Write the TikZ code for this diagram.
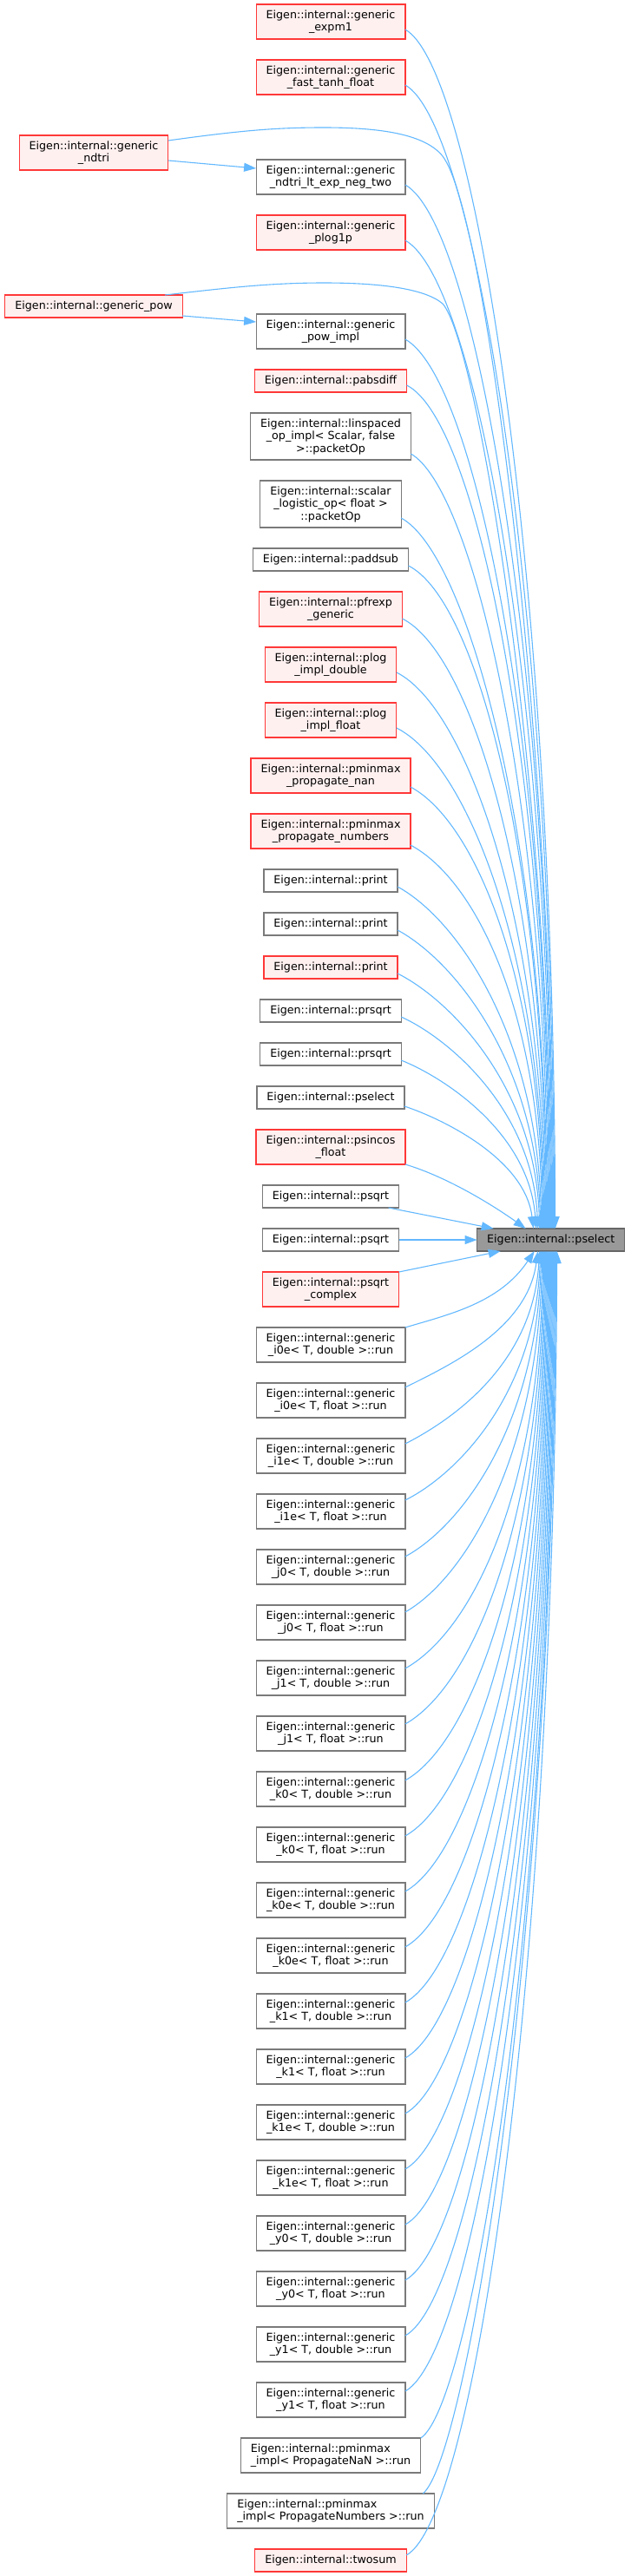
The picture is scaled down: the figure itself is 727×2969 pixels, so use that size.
\documentclass[tikz,border=0pt]{standalone}
\usepackage{fontspec}
\setmainfont{DejaVu Sans}
\usetikzlibrary{arrows.meta,positioning}
\definecolor{callblue}{HTML}{63B8FF}
\definecolor{truncred}{HTML}{FF3838}
\definecolor{truncfill}{HTML}{FFF0F0}
\definecolor{boxgray}{HTML}{7A7A7A}
\definecolor{focusfill}{HTML}{999999}
\definecolor{focusline}{HTML}{666666}
\tikzset{fn/.style={draw=boxgray,fill=white,line width=1.2pt,align=center,inner xsep=11.5pt,inner ysep=1pt,outer sep=0pt,minimum height=26pt,font=\fontsize{12.7pt}{14.5pt}\selectfont},trunc/.style={fn,draw=truncred,fill=truncfill},focus/.style={fn,draw=focusline,fill=focusfill},dbl/.style={minimum height=40pt},tpl/.style={minimum height=54pt},arr/.style={-{Triangle[length=14pt,width=10pt]},line width=1.1pt,draw=callblue}}

\begin{document}
\begin{tikzpicture}[x=1pt,y=-1pt,node distance=24pt]
\useasboundingbox (0,0) rectangle (727,2969);
% callers, middle column
\node[trunc,dbl] (expm) at (381,25) {Eigen::internal::generic\\\_expm1};
\node[trunc,dbl,below=of expm] (tanh) {Eigen::internal::generic\\\_fast\_tanh\_float};
\node[fn,dbl,below=75pt of tanh] (ndtrilt) {Eigen::internal::generic\\\_ndtri\_lt\_exp\_neg\_two};
\node[trunc,dbl,below=of ndtrilt] (plogp) {Eigen::internal::generic\\\_plog1p};
\node[fn,dbl,below=74pt of plogp] (powimpl) {Eigen::internal::generic\\\_pow\_impl};
\node[trunc,below=of powimpl] (pabs) {Eigen::internal::pabsdiff};
\node[fn,tpl,below=of pabs] (linsp) {Eigen::internal::linspaced\\\_op\_impl< Scalar, false\\>::packetOp};
\node[fn,tpl,below=of linsp] (logist) {Eigen::internal::scalar\\\_logistic\_op< float >\\::packetOp};
\node[fn,below=of logist] (paddsub) {Eigen::internal::paddsub};
\node[trunc,dbl,below=of paddsub] (pfrexp) {Eigen::internal::pfrexp\\\_generic};
\node[trunc,dbl,below=of pfrexp] (plogd) {Eigen::internal::plog\\\_impl\_double};
\node[trunc,dbl,below=of plogd] (plogf) {Eigen::internal::plog\\\_impl\_float};
\node[trunc,dbl,below=of plogf] (pmmnan) {Eigen::internal::pminmax\\\_propagate\_nan};
\node[trunc,dbl,below=of pmmnan] (pmmnum) {Eigen::internal::pminmax\\\_propagate\_numbers};
\node[fn,below=of pmmnum] (printa) {Eigen::internal::print};
\node[fn,below=of printa] (printb) {Eigen::internal::print};
\node[trunc,below=of printb] (printc) {Eigen::internal::print};
\node[fn,below=of printc] (prsqrta) {Eigen::internal::prsqrt};
\node[fn,below=of prsqrta] (prsqrtb) {Eigen::internal::prsqrt};
\node[fn,below=of prsqrtb] (pselcall) {Eigen::internal::pselect};
\node[trunc,dbl,below=of pselcall] (psincos) {Eigen::internal::psincos\\\_float};
\node[fn,below=of psincos] (psqrta) {Eigen::internal::psqrt};
\node[fn,below=of psqrta] (psqrtb) {Eigen::internal::psqrt};
\node[trunc,dbl,below=of psqrtb] (psqrtc) {Eigen::internal::psqrt\\\_complex};
\node[fn,dbl,below=of psqrtc] (izd) {Eigen::internal::generic\\\_i0e< T, double >::run};
\node[fn,dbl,below=of izd] (izf) {Eigen::internal::generic\\\_i0e< T, float >::run};
\node[fn,dbl,below=of izf] (iod) {Eigen::internal::generic\\\_i1e< T, double >::run};
\node[fn,dbl,below=of iod] (iof) {Eigen::internal::generic\\\_i1e< T, float >::run};
\node[fn,dbl,below=of iof] (jzd) {Eigen::internal::generic\\\_j0< T, double >::run};
\node[fn,dbl,below=of jzd] (jzf) {Eigen::internal::generic\\\_j0< T, float >::run};
\node[fn,dbl,below=of jzf] (jod) {Eigen::internal::generic\\\_j1< T, double >::run};
\node[fn,dbl,below=of jod] (jof) {Eigen::internal::generic\\\_j1< T, float >::run};
\node[fn,dbl,below=of jof] (kzd) {Eigen::internal::generic\\\_k0< T, double >::run};
\node[fn,dbl,below=of kzd] (kzf) {Eigen::internal::generic\\\_k0< T, float >::run};
\node[fn,dbl,below=of kzf] (kzed) {Eigen::internal::generic\\\_k0e< T, double >::run};
\node[fn,dbl,below=of kzed] (kzef) {Eigen::internal::generic\\\_k0e< T, float >::run};
\node[fn,dbl,below=of kzef] (kod) {Eigen::internal::generic\\\_k1< T, double >::run};
\node[fn,dbl,below=of kod] (kof) {Eigen::internal::generic\\\_k1< T, float >::run};
\node[fn,dbl,below=of kof] (koed) {Eigen::internal::generic\\\_k1e< T, double >::run};
\node[fn,dbl,below=of koed] (koef) {Eigen::internal::generic\\\_k1e< T, float >::run};
\node[fn,dbl,below=of koef] (yzd) {Eigen::internal::generic\\\_y0< T, double >::run};
\node[fn,dbl,below=of yzd] (yzf) {Eigen::internal::generic\\\_y0< T, float >::run};
\node[fn,dbl,below=of yzf] (yod) {Eigen::internal::generic\\\_y1< T, double >::run};
\node[fn,dbl,below=of yod] (yof) {Eigen::internal::generic\\\_y1< T, float >::run};
\node[fn,dbl,align=left,below=of yof] (pmminan) {Eigen::internal::pminmax\\\_impl< PropagateNaN >::run};
\node[fn,dbl,align=left,below=of pmminan] (pmminum) {Eigen::internal::pminmax\\\_impl< PropagateNumbers >::run};
\node[trunc,below=of pmminum] (twosum) {Eigen::internal::twosum};
% left column and the called function
\node[trunc,dbl] (ndtri) at (108,176) {Eigen::internal::generic\\\_ndtri};
\node[trunc] (gpow) at (108,353) {Eigen::internal::generic\_pow};
\node[focus,right=90pt of psqrtb] (pselect) {Eigen::internal::pselect};
% calls from above
\draw[arr] ([yshift=-9pt]expm.east) .. controls +(80,45) and +(-2,-765) .. ([xshift=5pt]pselect.north);
\draw[arr] ([yshift=-9pt]tanh.east) .. controls +(80,45) and +(-2,-729) .. ([xshift=4pt]pselect.north);
\draw[arr] ([yshift=14pt]ndtri.east) .. controls (280,150) and (320,147) .. (373,147) .. controls (440,147) and (490,155) .. (510,180) .. controls (560,245) and (637,850) .. ([xshift=3pt]pselect.north);
\draw[arr] ([yshift=-9pt]ndtri.east) -- ([yshift=10pt]ndtrilt.west);
\draw[arr] ([yshift=-9pt]ndtrilt.east) .. controls +(80,45) and +(-2,-666) .. ([xshift=2pt]pselect.north);
\draw[arr] ([yshift=-9pt]plogp.east) .. controls +(80,45) and +(-2,-631) .. ([xshift=1pt]pselect.north);
\draw[arr] ([xshift=-20pt]gpow.north east) .. controls (260,332) and (310,326) .. (373,326) .. controls (440,326) and (490,333) .. (510,350) .. controls (550,395) and (634,900) .. (pselect.north);
\draw[arr] ([yshift=-11pt]gpow.east) -- ([yshift=11pt]powimpl.west);
\draw[arr] ([yshift=-9pt]powimpl.east) .. controls +(80,45) and +(-2,-568) .. ([xshift=-1pt]pselect.north);
\draw[arr] ([yshift=-5pt]pabs.east) .. controls +(80,40) and +(-2,-536) .. ([xshift=-2pt]pselect.north);
\draw[arr] ([yshift=-20pt]linsp.east) .. controls +(70,40) and +(-2,-501) .. ([xshift=-3pt]pselect.north);
\draw[arr] ([yshift=-16pt]logist.east) .. controls +(75,40) and +(-2,-458) .. ([xshift=-4pt]pselect.north);
\draw[arr] ([yshift=-7pt]paddsub.east) .. controls +(80,40) and +(-2,-423) .. ([xshift=-5pt]pselect.north);
\draw[arr] ([yshift=-11pt]pfrexp.east) .. controls +(80,40) and +(-2,-391) .. ([xshift=-6pt]pselect.north);
\draw[arr] ([yshift=-9pt]plogd.east) .. controls +(80,40) and +(-2,-356) .. ([xshift=-7pt]pselect.north);
\draw[arr] ([yshift=-9pt]plogf.east) .. controls +(80,40) and +(-2,-321) .. ([xshift=-8pt]pselect.north);
\draw[arr] ([yshift=-13pt]pmmnan.east) .. controls +(75,40) and +(-2,-285) .. ([xshift=-9pt]pselect.north);
\draw[arr] ([yshift=-16pt]pmmnum.east) .. controls +(75,40) and +(-2,-250) .. ([xshift=-10pt]pselect.north);
\draw[arr] ([yshift=-7pt]printa.east) .. controls +(70,38) and +(-3,-219) .. ([xshift=-11pt]pselect.north);
\draw[arr] ([yshift=-7pt]printb.east) .. controls +(65,35) and +(-4,-191) .. ([xshift=-12pt]pselect.north);
\draw[arr] ([yshift=-7pt]printc.east) .. controls +(60,30) and +(-5,-164) .. ([xshift=-13pt]pselect.north);
\draw[arr] ([yshift=-7pt]prsqrta.east) .. controls +(55,25) and +(-6,-137) .. ([xshift=-15pt]pselect.north);
\draw[arr] ([yshift=-7pt]prsqrtb.east) .. controls +(50,20) and +(-8,-110) .. ([xshift=-17pt]pselect.north);
\draw[arr] ([yshift=-10pt]pselcall.east) .. controls +(45,15) and +(-10,-80) .. ([xshift=-20pt]pselect.north);
\draw[arr] (psincos.south east) .. controls +(50,15) and +(-35,-25) .. ([xshift=-29pt]pselect.north);
\draw[arr] ([xshift=-12pt]psqrta.south east) -- ([xshift=-66pt]pselect.north);
\draw[arr] (psqrtb.east) -- (pselect.west);
% calls from below
\draw[arr] (psqrtc.north east) -- ([xshift=-58pt]pselect.south);
\draw[arr] (izd.north east) .. controls +(50,-15) and +(-40,60) .. ([xshift=-19pt]pselect.south);
\draw[arr] ([yshift=15pt]izf.east) .. controls +(50,-25) and +(-12,90) .. ([xshift=-15pt]pselect.south);
\draw[arr] ([yshift=14pt]iod.east) .. controls +(55,-28) and +(-8,130) .. ([xshift=-13pt]pselect.south);
\draw[arr] ([yshift=13pt]iof.east) .. controls +(60,-30) and +(-6,165) .. ([xshift=-12pt]pselect.south);
\draw[arr] ([yshift=12pt]jzd.east) .. controls +(65,-35) and +(-5,200) .. ([xshift=-11pt]pselect.south);
\draw[arr] ([yshift=12pt]jzf.east) .. controls +(70,-40) and +(-4,235) .. ([xshift=-10pt]pselect.south);
\draw[arr] ([yshift=11pt]jod.east) .. controls +(80,-45) and +(-3,271) .. ([xshift=-9pt]pselect.south);
\draw[arr] ([yshift=11pt]jof.east) .. controls +(80,-45) and +(-3,306) .. ([xshift=-8pt]pselect.south);
\draw[arr] ([yshift=10pt]kzd.east) .. controls +(80,-45) and +(-3,341) .. ([xshift=-7pt]pselect.south);
\draw[arr] ([yshift=10pt]kzf.east) .. controls +(80,-45) and +(-3,376) .. ([xshift=-6pt]pselect.south);
\draw[arr] ([yshift=10pt]kzed.east) .. controls +(80,-45) and +(-3,411) .. ([xshift=-5pt]pselect.south);
\draw[arr] ([yshift=10pt]kzef.east) .. controls +(80,-45) and +(-3,447) .. ([xshift=-4pt]pselect.south);
\draw[arr] ([yshift=10pt]kod.east) .. controls +(80,-45) and +(-3,482) .. ([xshift=-3pt]pselect.south);
\draw[arr] ([yshift=10pt]kof.east) .. controls +(80,-45) and +(-3,517) .. ([xshift=-2pt]pselect.south);
\draw[arr] ([yshift=10pt]koed.east) .. controls +(80,-45) and +(-3,552) .. ([xshift=-1pt]pselect.south);
\draw[arr] ([yshift=10pt]koef.east) .. controls +(80,-45) and +(-3,587) .. (pselect.south);
\draw[arr] ([yshift=10pt]yzd.east) .. controls +(80,-45) and +(-3,623) .. ([xshift=1pt]pselect.south);
\draw[arr] ([yshift=10pt]yzf.east) .. controls +(80,-45) and +(-3,658) .. ([xshift=2pt]pselect.south);
\draw[arr] ([yshift=10pt]yod.east) .. controls +(80,-45) and +(-3,693) .. ([xshift=3pt]pselect.south);
\draw[arr] ([yshift=10pt]yof.east) .. controls +(80,-45) and +(-3,728) .. ([xshift=4pt]pselect.south);
\draw[arr] (pmminan.north east) .. controls +(60,-40) and +(-3,763) .. ([xshift=5pt]pselect.south);
\draw[arr] ([xshift=-13pt]pmminum.north east) .. controls +(50,-40) and +(-3,799) .. ([xshift=6pt]pselect.south);
\draw[arr] ([yshift=6pt]twosum.east) .. controls +(80,-45) and +(-3,830) .. ([xshift=7pt]pselect.south);
\end{tikzpicture}
\end{document}
